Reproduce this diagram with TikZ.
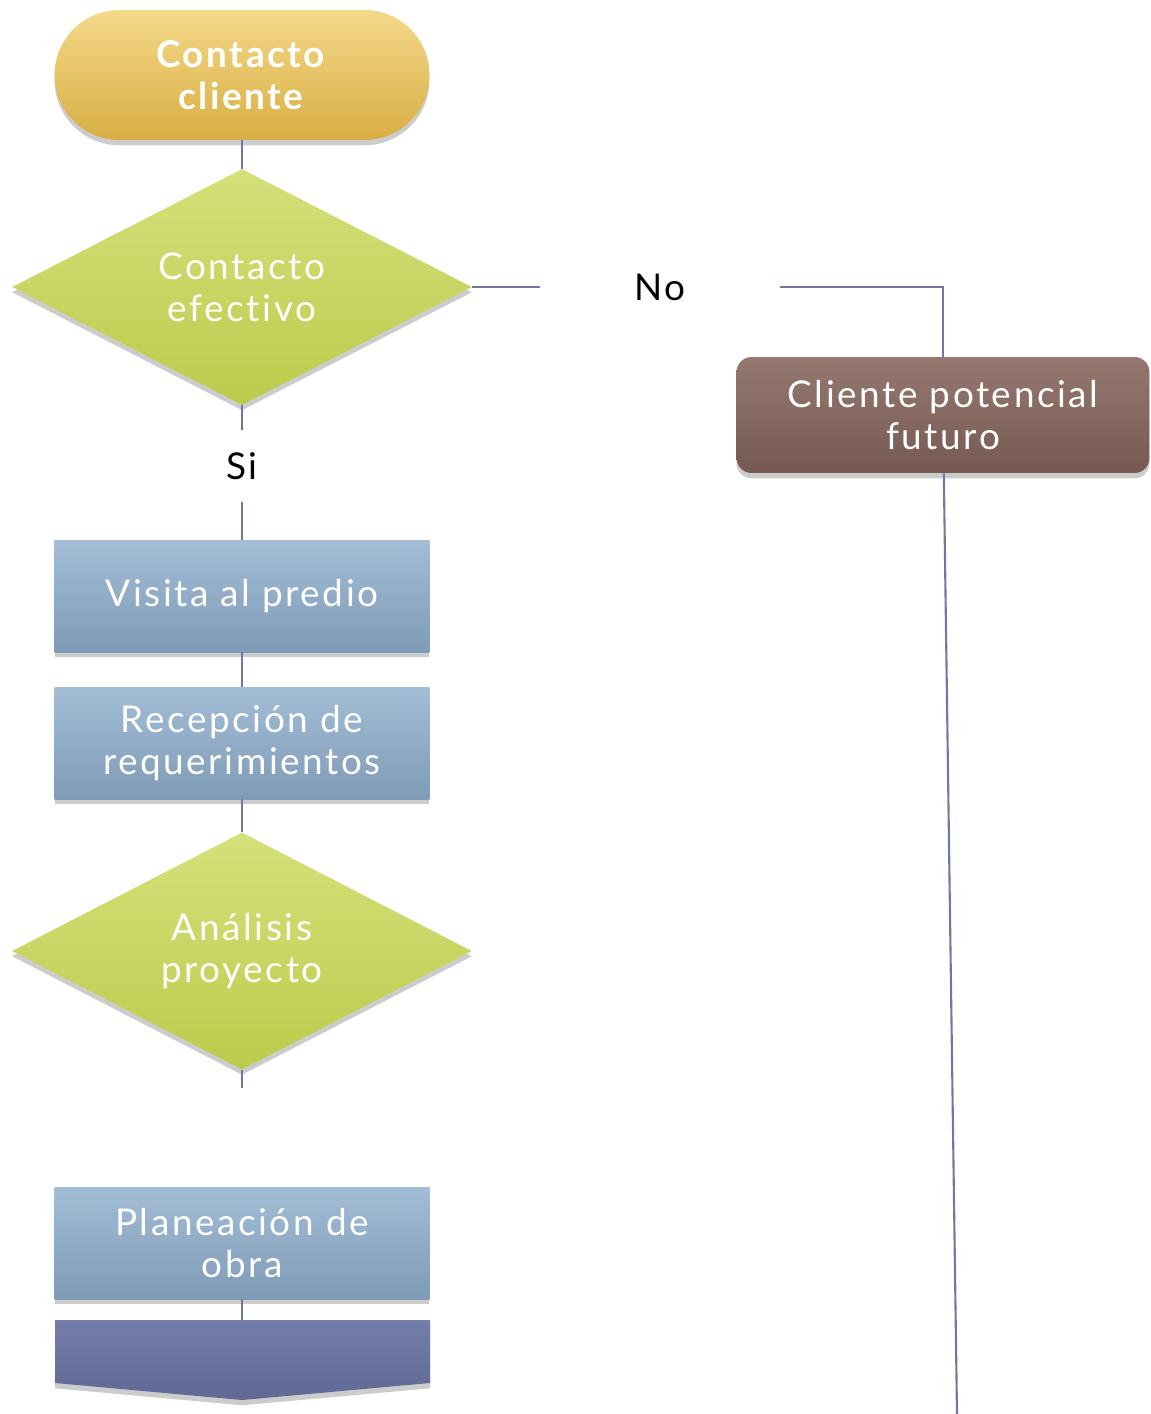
\documentclass[tikz,border=0pt]{standalone}
\usepackage{fontspec}
\setmainfont[LetterSpace=7,Ligatures=NoCommon]{Lato}
\usetikzlibrary{shapes.geometric,shadows,calc}
\definecolor{termtop}{HTML}{F4D98A}
\definecolor{termbot}{HTML}{D8AE42}
\definecolor{decitop}{HTML}{D6E07A}
\definecolor{decibot}{HTML}{BCCB4C}
\definecolor{proctop}{HTML}{A3BDD6}
\definecolor{procbot}{HTML}{7E9BB7}
\definecolor{fututop}{HTML}{957870}
\definecolor{futubot}{HTML}{765951}
\definecolor{chevtop}{HTML}{737EAA}
\definecolor{chevbot}{HTML}{5F6993}
\definecolor{linec}{HTML}{6E79A3}

\begin{document}
\begin{tikzpicture}
[x=0.02cm,y=-0.02cm,
every node/.style={text=white,align=center,font=\fontsize{21}{24}\selectfont},
shad/.style={drop shadow={opacity=0.4,shadow xshift=0pt,shadow yshift=-3pt}},
term/.style={rectangle,rounded corners=1.3cm,minimum width=7.5cm,minimum height=2.6cm,
  top color=termtop,bottom color=termbot,shad},
deci/.style={diamond,inner sep=0pt,minimum width=9.2cm,minimum height=4.44cm,
  top color=decitop,bottom color=decibot,shad},
proc/.style={rectangle,minimum width=7.5cm,minimum height=2.24cm,
  top color=proctop,bottom color=procbot,shad},
futu/.style={rectangle,rounded corners=0.3cm,minimum width=8.26cm,minimum height=2.32cm,
  top color=fututop,bottom color=futubot,shad},
chevr/.style={top color=chevtop,bottom color=chevbot,shad},
lbl/.style={text=black,inner sep=0pt},
line/.style={draw=linec,line width=1.2pt}]
\useasboundingbox (0,0) rectangle (1151,1414);
\node[term] (cc) at (242,75) {\textbf{Contacto}\\\textbf{cliente}};
\node[deci] (ce) at (242,287) {Contacto\\efectivo};
\node[lbl,minimum height=1.44cm] (si) at (242,466) {Si};
\node[proc] (vp) at (242,596) {Visita al predio};
\node[proc] (rr) at (242,743) {Recepción de\\requerimientos};
\node[deci] (ap) at (242,951) {Análisis\\proyecto};
\coordinate (apend) at (242,1088);
\node[proc] (po) at (242,1243) {Planeación de\\obra};
\coordinate (chev) at (242,1320);
\path[chevr] ($(chev)+(-187,0)$) -- ++(375,0) -- ++(0,63) -- ($(chev)+(0,80)$)
  -- ($(chev)+(-187,63)$) -- cycle;
\node[lbl,minimum width=4.8cm] (no) at (660,287) {No};
\node[futu] (cp) at (943,415) {Cliente potencial\\futuro};
\coordinate (cpend) at (957,1414);
\draw[line] (cc) -- (ce);
\draw[line] (ce) -- (si);
\draw[line] (si) -- (vp);
\draw[line] (vp) -- (rr);
\draw[line] (rr) -- (ap);
\draw[line] (ap) -- (apend);
\draw[line] (po) -- (chev);
\draw[line] (ce) -- (no);
\draw[line] (no.east) -| (cp);
\draw[line] (cp) -- (cpend);
\end{tikzpicture}
\end{document}
